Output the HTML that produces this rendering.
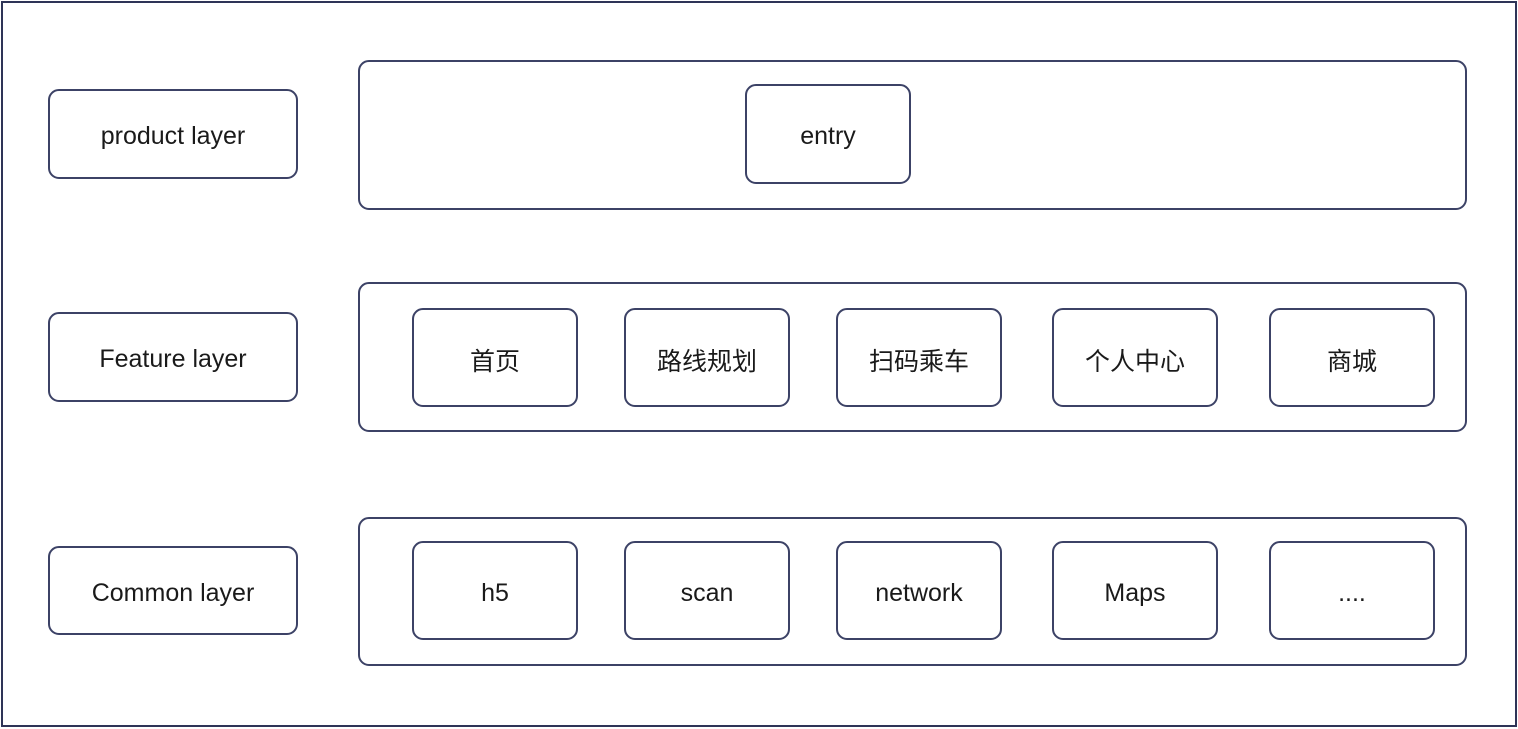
<!DOCTYPE html>
<html><head><meta charset="utf-8"><style>
html,body{margin:0;padding:0;background:#fff;}
body{width:1518px;height:729px;position:relative;overflow:hidden;font-family:"Liberation Sans","Noto Sans CJK SC",sans-serif;}
.b{position:absolute;box-sizing:border-box;border:2px solid #3c4266;border-radius:11px;display:flex;align-items:center;justify-content:center;font-size:25px;color:#1a1a1a;padding-top:5px;}
.f{position:absolute;left:1px;top:1px;width:1516px;height:726px;box-sizing:border-box;border:2px solid #2e3457;}
</style></head><body>
<div class="f"></div>
<div class="b" style="left:48px;top:89px;width:250px;height:90px">product layer</div>
<div class="b" style="left:48px;top:312px;width:250px;height:90px">Feature layer</div>
<div class="b" style="left:48px;top:546px;width:250px;height:89px">Common layer</div>
<div class="b" style="left:358px;top:60px;width:1109px;height:150px"></div>
<div class="b" style="left:358px;top:282px;width:1109px;height:150px"></div>
<div class="b" style="left:358px;top:517px;width:1109px;height:149px"></div>
<div class="b" style="left:745px;top:84px;width:166px;height:100px">entry</div>
<div class="b" style="left:412px;top:308px;width:166px;height:99px">首页</div>
<div class="b" style="left:624px;top:308px;width:166px;height:99px">路线规划</div>
<div class="b" style="left:836px;top:308px;width:166px;height:99px">扫码乘车</div>
<div class="b" style="left:1052px;top:308px;width:166px;height:99px">个人中心</div>
<div class="b" style="left:1269px;top:308px;width:166px;height:99px">商城</div>
<div class="b" style="left:412px;top:541px;width:166px;height:99px">h5</div>
<div class="b" style="left:624px;top:541px;width:166px;height:99px">scan</div>
<div class="b" style="left:836px;top:541px;width:166px;height:99px">network</div>
<div class="b" style="left:1052px;top:541px;width:166px;height:99px">Maps</div>
<div class="b" style="left:1269px;top:541px;width:166px;height:99px">....</div>
</body></html>
